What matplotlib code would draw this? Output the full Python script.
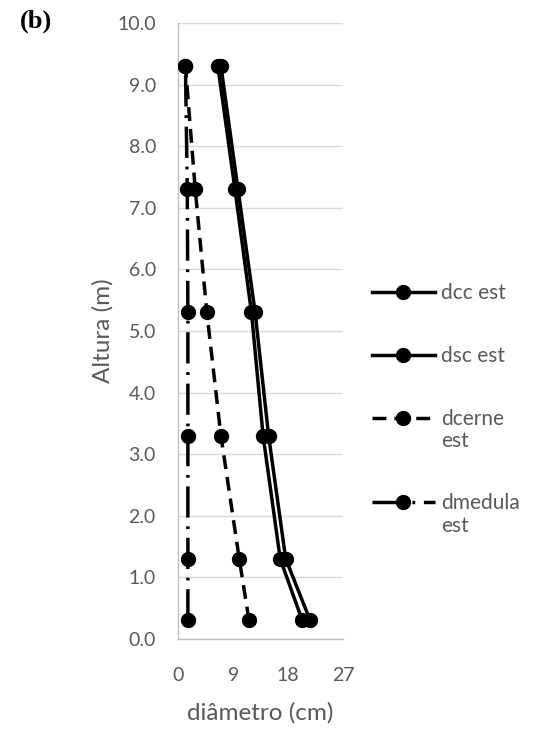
import matplotlib
matplotlib.use("Agg")
import matplotlib.pyplot as plt

heights = [0.3, 1.3, 3.3, 5.3, 7.3, 9.3]
dcc = [21.6, 17.6, 14.8, 12.6, 9.8, 7.0]
dsc = [20.3, 16.7, 13.9, 12.0, 9.3, 6.5]
dcerne = [11.6, 10.0, 7.0, 4.7, 2.8, 1.2]
dmedula = [1.6, 1.6, 1.6, 1.6, 1.5, 1.2]
labels = ["dcc est", "dsc est", "dcerne\nest", "dmedula\nest"]
xticks = [0, 9, 18, 27]
yticks = [0.0, 1.0, 2.0, 3.0, 4.0, 5.0, 6.0, 7.0, 8.0, 9.0, 10.0]

plt.rcParams['font.family'] = ['Lato', 'DejaVu Sans']
fig = plt.figure(figsize=(5.43, 7.31), dpi=100)
ax = fig.add_axes([0.328, 0.126, 0.304, 0.8426])

lw = 2.5
ms = 10
ax.plot(dcc, heights, color='black', lw=lw, marker='o', ms=ms, label=labels[0], zorder=3)
ax.plot(dsc, heights, color='black', lw=lw, marker='o', ms=ms, label=labels[1], zorder=3)
ax.plot(dcerne, heights, color='black', lw=lw, marker='o', ms=ms, label=labels[2],
        linestyle=(0, (4, 2.3)), zorder=3)
ax.plot(dmedula, heights, color='black', lw=lw, marker='o', ms=ms, label=labels[3],
        linestyle=(0, (9, 2.5, 0.8, 2.5)), zorder=3)

ax.set_xlim(0, 27)
ax.set_ylim(0, 10)
ax.set_xticks(xticks)
ax.set_yticks(yticks)
ax.set_yticklabels([f"{v:.1f}" for v in yticks])
ax.grid(axis='y', color='#d9d9d9', lw=1)
ax.set_axisbelow(True)
for s in ['top', 'right']:
    ax.spines[s].set_visible(False)
for s in ['left', 'bottom']:
    ax.spines[s].set_color('#bfbfbf')
    ax.spines[s].set_linewidth(1)
ax.tick_params(axis='both', length=0, labelsize=14, colors='#595959')
ax.tick_params(axis='y', pad=16)
ax.tick_params(axis='x', pad=20)

ax.set_ylabel("Altura (m)", fontsize=17.5, color='#595959', labelpad=3)
ax.set_xlabel("diâmetro (cm)", fontsize=17.5, color='#595959', labelpad=13)

leg = ax.legend(loc='upper left', bbox_to_anchor=(372 / 543, 1 - 283 / 731),
                bbox_transform=fig.transFigure, frameon=False, borderpad=0,
                borderaxespad=0, fontsize=15, handlelength=3.0, handleheight=1.2,
                labelspacing=2.0, handletextpad=0.3)
for t in leg.get_texts():
    t.set_color('#595959')
    t.set_linespacing(1.15)
for col in leg._legend_handle_box.get_children():
    for item in col.get_children():
        item.align = "top"

fig.text(0.036, 0.971, "(b)", fontsize=19, fontweight='bold', family='Liberation Serif',
         va='center', ha='left')

fig.savefig("out.png", dpi=100)
